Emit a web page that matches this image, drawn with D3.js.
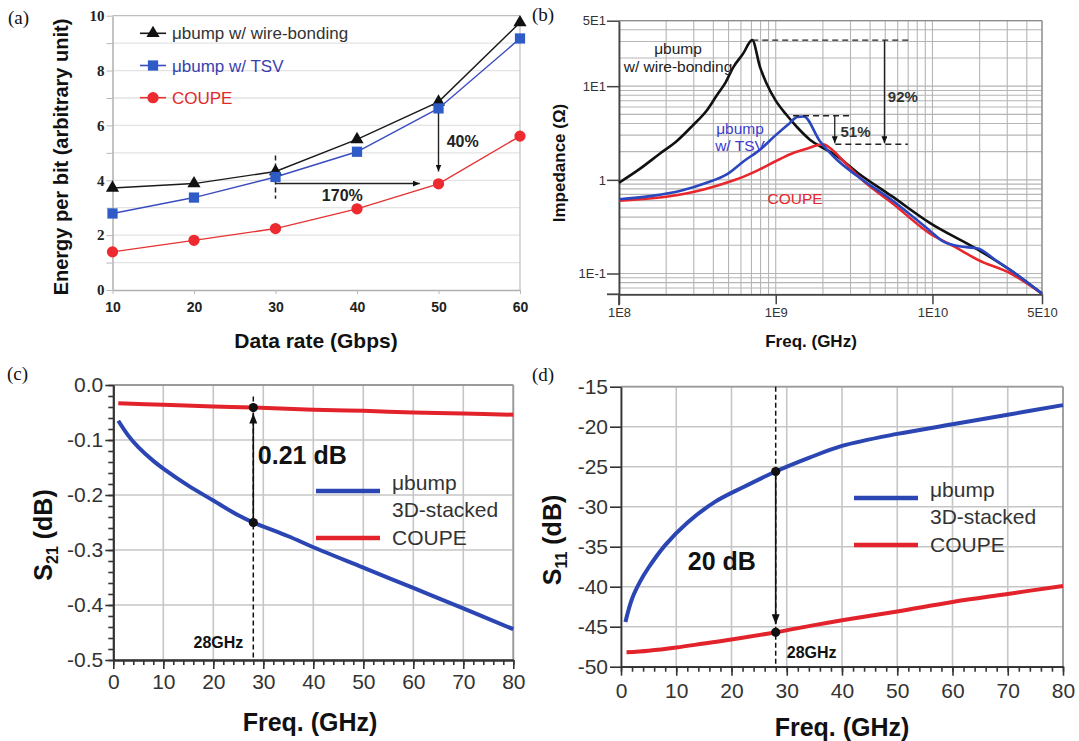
<!DOCTYPE html>
<html>
<head>
<meta charset="UTF-8">
<title>COUPE vs ubump</title>
<script src="https://d3js.org/d3.v7.min.js"></script>
<style>
  body { margin: 0; background: #fff; }
  svg { display: block; font-family: "Liberation Sans", Arial, sans-serif; }
</style>
</head>
<body>
<div id="chart"></div>
<script>
// ---- (a) energy per bit vs data rate ----
const rateA = [10, 20, 30, 40, 50, 60];
const wireA = [3.72, 3.88, 4.32, 5.49, 6.86, 9.75];
const tsvA = [2.79, 3.37, 4.12, 5.04, 6.62, 9.17];
const coupeA = [1.39, 1.81, 2.24, 2.96, 3.87, 5.61];
const yLabelsA = [0, 2, 4, 6, 8, 10];
const legendA = ["\u03bcbump w/ wire-bonding", "\u03bcbump w/ TSV", "COUPE"];

// ---- (b) impedance vs frequency (Hz, ohm) ----
const wireB_f = [1e8, 1.35e8, 1.82e8, 2.34e8, 2.95e8, 3.63e8, 4.17e8, 4.79e8, 5.37e8, 6.17e8, 7.08e8, 7.94e8, 8.71e8, 1e9, 1.17e9, 1.38e9, 1.66e9, 2e9, 2.4e9, 3.31e9, 5.5e9, 9.55e9, 1.95e10, 3.16e10, 5e10];
const wireB_z = [0.93, 1.3, 1.9, 2.6, 3.8, 5.5, 7.8, 11, 16, 22, 31, 16, 10.8, 7, 4.95, 3.6, 2.67, 2.2, 1.85, 1.2, 0.67, 0.35, 0.18, 0.108, 0.061];
const tsvB_f = [1e8, 1.58e8, 2.51e8, 3.55e8, 4.9e8, 6.31e8, 7.94e8, 1e9, 1.2e9, 1.38e9, 1.51e9, 1.91e9, 2.4e9, 3.31e9, 5.5e9, 9.55e9, 1.17e10, 1.48e10, 1.95e10, 2.51e10, 3.16e10, 5e10];
const tsvB_z = [0.62, 0.67, 0.77, 0.92, 1.15, 1.6, 2.1, 3.0, 3.9, 4.7, 4.75, 2.6, 1.7, 1.1, 0.61, 0.29, 0.22, 0.195, 0.185, 0.14, 0.108, 0.061];
const coupeB_f = [1e8, 2e8, 3.47e8, 5.01e8, 6.31e8, 7.94e8, 1.05e9, 1.26e9, 1.58e9, 2e9, 2.29e9, 2.69e9, 3.63e9, 5.5e9, 9.55e9, 1.41e10, 1.95e10, 3.16e10, 5e10];
const coupeB_z = [0.6, 0.66, 0.79, 0.95, 1.09, 1.3, 1.65, 1.9, 2.15, 2.4, 2.1, 1.6, 0.97, 0.57, 0.27, 0.19, 0.14, 0.1, 0.061];
const yTicksB = [50, 10, 1, 0.1];
const yTickLabelsB = ["5E1", "1E1", "1", "1E-1"];
const xTicksB = [1e8, 1e9, 1e10, 5e10];
const xTickLabelsB = ["1E8", "1E9", "1E10", "5E10"];

// ---- (c) S21 vs frequency (GHz, dB) ----
const bumpC_f = [1, 3, 5, 8, 10, 15, 20, 25, 28, 35, 40, 50, 60, 70, 80];
const bumpC_s = [-0.065, -0.092, -0.113, -0.138, -0.152, -0.183, -0.21, -0.237, -0.25, -0.275, -0.295, -0.332, -0.369, -0.406, -0.444];
const coupeC_f = [1, 10, 20, 28, 40, 50, 60, 70, 80];
const coupeC_s = [-0.033, -0.036, -0.039, -0.041, -0.045, -0.047, -0.05, -0.052, -0.054];

// ---- (d) S11 vs frequency (GHz, dB) ----
const bumpD_f = [0.8, 2, 3.5, 5, 8, 12, 17, 22, 28, 34, 40, 50, 60, 70, 80];
const bumpD_s = [-44.4, -41.5, -39.3, -37.6, -34.8, -32.0, -29.4, -27.6, -25.6, -23.9, -22.4, -20.9, -19.7, -18.5, -17.3];
const coupeD_f = [1, 5, 10, 15, 20, 28, 35, 40, 50, 60, 70, 80];
const coupeD_s = [-48.2, -48.0, -47.6, -47.1, -46.6, -45.7, -44.8, -44.2, -43.1, -41.9, -40.9, -39.9];

const legendCD = ["\u03bcbump", "3D-stacked", "COUPE"];
const BLUE = "#2b45b3", RED = "#e3232b";

const svg = d3.select("#chart").append("svg").attr("width", 1079).attr("height", 741);
const defs = svg.append("defs");
function arrowDef(id, len, wid) {
  defs.append("marker").attr("id", id).attr("viewBox", `0 0 ${len} ${wid}`)
    .attr("refX", len).attr("refY", wid / 2)
    .attr("markerWidth", len).attr("markerHeight", wid)
    .attr("markerUnits", "userSpaceOnUse").attr("orient", "auto")
    .append("path").attr("d", `M0,0L${len},${wid / 2}L0,${wid}Z`).attr("fill", "#111");
}
arrowDef("arrS", 7, 6);
arrowDef("arrL", 10, 8);

// panel letters
[["(a)", 8, 24], ["(b)", 532, 21], ["(c)", 7, 380], ["(d)", 532, 381]].forEach(p => {
  svg.append("text").attr("x", p[1]).attr("y", p[2]).text(p[0])
    .attr("font-family", "Liberation Serif, serif").attr("font-size", 19).attr("fill", "#111");
});

// =============== (a) ===============
{
  const xA = d3.scaleLinear().domain([10, 60]).range([112.5, 520]);
  const yA = d3.scaleLinear().domain([0, 10]).range([290, 15.7]);
  const g = svg.append("g");

  g.selectAll("line.grid").data(yA.ticks(10).filter(d => d > 0)).join("line").attr("class", "grid")
    .attr("x1", xA(10)).attr("x2", xA(60)).attr("y1", d => yA(d)).attr("y2", d => yA(d))
    .attr("stroke", d => d === 10 ? "#bdbdbd" : "#e3e3e3").attr("stroke-width", 1.3);
  g.append("line").attr("x1", xA(60)).attr("x2", xA(60)).attr("y1", yA(0)).attr("y2", yA(10))
    .attr("stroke", "#c4c4c4").attr("stroke-width", 1.3);

  const ay = g.append("g").attr("transform", `translate(${xA(10)},0)`)
    .call(d3.axisLeft(yA).ticks(10).tickSize(6).tickPadding(2).tickSizeOuter(0)
      .tickFormat(d => yLabelsA.includes(d) ? d : ""));
  ay.select(".domain").attr("stroke", "#b0b0b0").attr("stroke-width", 1.5);
  ay.selectAll(".tick line").attr("stroke", "#b8b8b8");
  ay.selectAll(".tick text").attr("font-family", "Liberation Serif, serif").attr("font-weight", "bold")
    .attr("font-size", 15).attr("fill", "#222");

  const ax = g.append("g").attr("transform", `translate(0,${yA(0)})`)
    .call(d3.axisBottom(xA).tickValues(rateA).tickSize(4).tickPadding(8).tickSizeOuter(0));
  ax.select(".domain").attr("stroke", "#b0b0b0").attr("stroke-width", 1.5);
  ax.selectAll(".tick line").attr("stroke", "#b8b8b8");
  ax.selectAll(".tick text").attr("font-weight", "bold").attr("font-size", 14).attr("fill", "#222");

  g.append("text").attr("transform", `translate(68,157) rotate(-90)`).attr("text-anchor", "middle")
    .attr("font-weight", "bold").attr("font-size", 20).attr("fill", "#111")
    .text("Energy per bit (arbitrary unit)");
  g.append("text").attr("x", 316).attr("y", 348).attr("text-anchor", "middle")
    .attr("font-weight", "bold").attr("font-size", 21).attr("fill", "#111").text("Data rate (Gbps)");

  // annotations
  g.append("line").attr("x1", xA(30)).attr("x2", xA(30)).attr("y1", yA(4.9)).attr("y2", yA(3.33))
    .attr("stroke", "#222").attr("stroke-width", 1.5).attr("stroke-dasharray", "5,3");
  [[30, 3.88, 47.7, 3.88], [50, 6.6, 50, 4.32]].forEach(a => {
    g.append("line").attr("x1", xA(a[0])).attr("y1", yA(a[1])).attr("x2", xA(a[2])).attr("y2", yA(a[3]))
      .attr("stroke", "#222").attr("stroke-width", 1.4).attr("marker-end", "url(#arrS)");
  });
  [[38.2, 3.25, "170%", "middle"], [51, 5.21, "40%", "start"]].forEach(t => {
    g.append("text").attr("x", xA(t[0])).attr("y", yA(t[1])).attr("text-anchor", t[3])
      .attr("font-weight", "bold").attr("font-size", 16).attr("fill", "#222").text(t[2]);
  });

  const series = [
    { vals: wireA, line: "#1a1a1a", fill: "#111", text: "#333", sym: d3.symbolTriangle, size: 75 },
    { vals: tsvA, line: "#3a4cc0", fill: "#2f5bc7", text: "#3a3fae", sym: d3.symbolSquare, size: 105 },
    { vals: coupeA, line: "#e53333", fill: "#ec2a30", text: "#e02a2a", sym: d3.symbolCircle, size: 100 }
  ];
  const line = d3.line().x((d, i) => xA(rateA[i])).y(d => yA(d));
  series.forEach((s, k) => {
    g.append("path").attr("d", line(s.vals)).attr("fill", "none").attr("stroke", s.line).attr("stroke-width", 1.4);
    g.selectAll(null).data(s.vals).join("path")
      .attr("transform", (d, i) => `translate(${xA(rateA[i])},${yA(d)})`)
      .attr("d", d3.symbol(s.sym, s.size)).attr("fill", s.fill);
    // legend
    const ly = 33.3 + k * 32.2;
    g.append("line").attr("x1", 140).attr("x2", 166).attr("y1", ly).attr("y2", ly)
      .attr("stroke", s.line).attr("stroke-width", 1.6);
    g.append("path").attr("transform", `translate(153,${ly})`).attr("d", d3.symbol(s.sym, s.size)).attr("fill", s.fill);
    g.append("text").attr("x", 172).attr("y", ly + 6).attr("font-size", 17).attr("fill", s.text).text(legendA[k]);
  });
}

// =============== (b) ===============
{
  const xB = d3.scaleLog().domain([1e8, 5e10]).range([619, 1042]);
  const yB = d3.scaleLog().domain([0.06, 50]).range([294.3, 20.7]);
  const g = svg.append("g");
  const [x0, x1] = xB.range(), [y0, y1] = yB.range();

  g.selectAll("line.vg").data(xB.ticks()).join("line").attr("class", "vg")
    .attr("x1", d => xB(d)).attr("x2", d => xB(d)).attr("y1", y0).attr("y2", y1)
    .attr("stroke", "#b5b5b5").attr("stroke-width", 1.1);
  g.selectAll("line.hg").data(yB.ticks()).join("line").attr("class", "hg")
    .attr("x1", x0).attr("x2", x1).attr("y1", d => yB(d)).attr("y2", d => yB(d))
    .attr("stroke", "#b5b5b5").attr("stroke-width", 1.1);
  g.append("line").attr("x1", x0).attr("x2", x1).attr("y1", y1).attr("y2", y1).attr("stroke", "#8a8a8a").attr("stroke-width", 1.2);
  g.append("line").attr("x1", x1).attr("x2", x1).attr("y1", y0).attr("y2", y1).attr("stroke", "#8a8a8a").attr("stroke-width", 1.2);

  const ay = g.append("g").attr("transform", `translate(${x0},0)`)
    .call(d3.axisLeft(yB).tickValues(yTicksB).tickSize(12).tickPadding(1).tickSizeOuter(0)
      .tickFormat((d, i) => yTickLabelsB[i]));
  const ax = g.append("g").attr("transform", `translate(0,${y0})`)
    .call(d3.axisBottom(xB).tickValues(xTicksB).tickSize(10).tickPadding(3).tickSizeOuter(0)
      .tickFormat((d, i) => xTickLabelsB[i]));
  [ay, ax].forEach(a => {
    a.select(".domain").attr("stroke", "#444").attr("stroke-width", 1.8);
    a.selectAll(".tick line").attr("stroke", "#444").attr("stroke-width", 1.5);
    a.selectAll(".tick text").attr("font-size", 13).attr("fill", "#333");
  });
  // axis line overhangs
  g.append("line").attr("x1", x0 - 12).attr("x2", x0).attr("y1", y0).attr("y2", y0).attr("stroke", "#444").attr("stroke-width", 1.8);
  g.append("line").attr("x1", x0).attr("x2", x0).attr("y1", y0).attr("y2", y0 + 11).attr("stroke", "#444").attr("stroke-width", 1.8);

  g.append("text").attr("transform", `translate(565,163) rotate(-90)`).attr("text-anchor", "middle")
    .attr("font-weight", "bold").attr("font-size", 17).attr("fill", "#111").text("Impedance (\u03a9)");
  g.append("text").attr("x", 811).attr("y", 347).attr("text-anchor", "middle")
    .attr("font-weight", "bold").attr("font-size", 17).attr("fill", "#111").text("Freq. (GHz)");

  const line = (f, z) => d3.line().x((d, i) => xB(f[i])).y(d => yB(d)).curve(d3.curveMonotoneX)(z);
  [[wireB_f, wireB_z, "#111"], [coupeB_f, coupeB_z, "#e8262b"], [tsvB_f, tsvB_z, "#2a47c0"]].forEach(s => {
    g.append("path").attr("d", line(s[0], s[1])).attr("fill", "none").attr("stroke", s[2])
      .attr("stroke-width", 2.6).attr("stroke-linejoin", "round");
  });

  // dashed reference lines and arrows
  [[7.08e8, 7.4e9, 31], [2.4e9, 6.97e9, 2.4], [1.29e9, 2.95e9, 4.83]].forEach(d => {
    g.append("line").attr("x1", xB(d[0])).attr("x2", xB(d[1])).attr("y1", yB(d[2])).attr("y2", yB(d[2]))
      .attr("stroke", "#222").attr("stroke-width", 1.4).attr("stroke-dasharray", "6,4");
  });
  [[4.94e9, 31, 2.46], [2.38e9, 4.83, 2.46]].forEach(a => {
    g.append("line").attr("x1", xB(a[0])).attr("x2", xB(a[0])).attr("y1", yB(a[1])).attr("y2", yB(a[2]))
      .attr("stroke", "#222").attr("stroke-width", 1.3).attr("marker-end", "url(#arrS)");
  });
  [[5.19e9, 6.83, "92%"], [2.59e9, 2.88, "51%"]].forEach(t => {
    g.append("text").attr("x", xB(t[0])).attr("y", yB(t[1])).attr("font-size", 15)
      .attr("font-weight", "bold").attr("fill", "#333").text(t[2]);
  });
  const lbl = [
    [678, [53.5, 72], ["\u03bcbump", "w/ wire-bonding"], "#222"],
    [740, [133.5, 151], ["\u03bcbump", "w/ TSV"], "#3b3bd0"],
    [795, [203.5], ["COUPE"], "#e8262b"]
  ];
  lbl.forEach(l => l[2].forEach((t, i) => {
    g.append("text").attr("x", l[0]).attr("y", l[1][i]).attr("text-anchor", "middle")
      .attr("font-size", 15.5).attr("fill", l[3]).text(t);
  }));
}

// =============== (c) and (d) ===============
function sPanel(o) {
  const x = d3.scaleLinear().domain([0, 80]).range(o.xRange);
  const y = d3.scaleLinear().domain(o.yDomain).range(o.yRange);
  const g = svg.append("g");
  const [x0, x1] = o.xRange, [y0, y1] = o.yRange;
  const xt = x.ticks(8), yt = y.ticks(o.nY);

  g.selectAll("line.vg").data(xt).join("line").attr("class", "vg")
    .attr("x1", d => x(d)).attr("x2", d => x(d)).attr("y1", y0).attr("y2", y1)
    .attr("stroke", "#c6c6c6").attr("stroke-width", 1.6);
  g.selectAll("line.hg").data(yt).join("line").attr("class", "hg")
    .attr("x1", x0).attr("x2", x1).attr("y1", d => y(d)).attr("y2", d => y(d))
    .attr("stroke", "#c6c6c6").attr("stroke-width", 1.6);
  g.append("line").attr("x1", x0).attr("x2", x1).attr("y1", y1).attr("y2", y1).attr("stroke", "#9a9a9a").attr("stroke-width", 1.8);
  g.append("line").attr("x1", x1).attr("x2", x1).attr("y1", y0).attr("y2", y1).attr("stroke", "#9a9a9a").attr("stroke-width", 1.8);

  const minorX = g.append("g").attr("transform", `translate(0,${y0})`)
    .call(d3.axisBottom(x).ticks(40).tickSize(5).tickFormat("").tickSizeOuter(0));
  const ax = g.append("g").attr("transform", `translate(0,${y0})`)
    .call(d3.axisBottom(x).tickValues(xt).tickSize(9).tickPadding(o.xPad).tickSizeOuter(0));
  const parts = [minorX, ax];
  if (o.minorY) {
    parts.push(g.append("g").attr("transform", `translate(${x0},0)`)
      .call(d3.axisLeft(y).ticks(o.minorY).tickSize(5).tickFormat("").tickSizeOuter(0)));
  }
  const ay = g.append("g").attr("transform", `translate(${x0},0)`)
    .call(d3.axisLeft(y).tickValues(yt).tickSize(o.yTick).tickPadding(2).tickSizeOuter(0).tickFormat(o.fmt));
  parts.push(ay);
  parts.forEach(a => {
    a.select(".domain").attr("stroke", "#333").attr("stroke-width", 1.8);
    a.selectAll(".tick line").attr("stroke", "#333").attr("stroke-width", 1.6);
    a.selectAll(".tick text").attr("font-size", 21).attr("fill", "#333");
  });

  // axis titles
  const yt1 = g.append("text").attr("transform", `translate(${o.yTitle[0]},${o.yTitle[1]}) rotate(-90)`)
    .attr("text-anchor", "middle").attr("font-weight", "bold").attr("font-size", 25).attr("fill", "#111");
  yt1.append("tspan").text("S");
  yt1.append("tspan").attr("font-size", 16).attr("dy", 6).text(o.sub);
  yt1.append("tspan").attr("dy", -6).text(" (dB)");
  g.append("text").attr("x", o.xTitle[0]).attr("y", o.xTitle[1]).attr("text-anchor", "middle")
    .attr("font-weight", "bold").attr("font-size", 25).attr("fill", "#111").text("Freq. (GHz)");

  // dashed marker at 28 GHz
  g.append("line").attr("x1", x(28)).attr("x2", x(28)).attr("y1", y(o.dashTop)).attr("y2", y0)
    .attr("stroke", "#111").attr("stroke-width", 1.5).attr("stroke-dasharray", "5,3");

  const line = (f, s) => d3.line().x((d, i) => x(f[i])).y(d => y(d)).curve(d3.curveCatmullRom.alpha(0.5))(s);
  g.append("path").attr("d", line(o.coupeF, o.coupeS)).attr("fill", "none").attr("stroke", RED).attr("stroke-width", 4);
  g.append("path").attr("d", line(o.bumpF, o.bumpS)).attr("fill", "none").attr("stroke", BLUE).attr("stroke-width", 4);

  // arrow between curves at 28 GHz
  g.append("line").attr("x1", x(28)).attr("x2", x(28)).attr("y1", y(o.arrow[0])).attr("y2", y(o.arrow[1]))
    .attr("stroke", "#111").attr("stroke-width", 1.6).attr("marker-end", "url(#arrL)");
  g.selectAll("circle.dot").data(o.dots).join("circle").attr("class", "dot")
    .attr("cx", x(28)).attr("cy", d => y(d)).attr("r", 4.6).attr("fill", "#111");

  g.append("text").attr("x", x(o.dbLabel[0])).attr("y", y(o.dbLabel[1])).attr("font-weight", "bold")
    .attr("font-size", 25).attr("fill", "#111").text(o.dbLabel[2]);
  g.append("text").attr("x", x(o.ghzLabel[0])).attr("y", y(o.ghzLabel[1])).attr("text-anchor", o.ghzLabel[2])
    .attr("font-weight", "bold").attr("font-size", 16).attr("fill", "#111").text("28GHz");

  // legend
  const L = o.legend;
  g.append("line").attr("x1", L.x).attr("x2", L.x + 64).attr("y1", L.y).attr("y2", L.y).attr("stroke", BLUE).attr("stroke-width", 4.5);
  g.append("line").attr("x1", L.x).attr("x2", L.x + 64).attr("y1", L.y + 47).attr("y2", L.y + 47).attr("stroke", RED).attr("stroke-width", 4.5);
  [[-1, 0], [26, 1], [54, 2]].forEach(r => {
    g.append("text").attr("x", L.x + 76).attr("y", L.y + r[0]).attr("font-size", 21).attr("fill", "#333").text(legendCD[r[1]]);
  });
}

sPanel({
  xRange: [113.3, 513.3], yDomain: [-0.5, 0], yRange: [660, 385], nY: 5, minorY: 25, yTick: 8, xPad: 5,
  fmt: d => d.toFixed(1), sub: "21", yTitle: [52, 535], xTitle: [310, 731],
  bumpF: bumpC_f, bumpS: bumpC_s, coupeF: coupeC_f, coupeS: coupeC_s,
  dashTop: -0.021, arrow: [-0.25, -0.052], dots: [-0.041, -0.25],
  dbLabel: [28.9, -0.1436, "0.21 dB"], ghzLabel: [26.0, -0.478, "end"],
  legend: { x: 316, y: 491 }
});
sPanel({
  xRange: [621, 1063], yDomain: [-50, -15], yRange: [666.7, 386.7], nY: 7, minorY: 0, yTick: 11, xPad: 7,
  fmt: d => String(d), sub: "11", yTitle: [561, 540], xTitle: [842, 736],
  bumpF: bumpD_f, bumpS: bumpD_s, coupeF: coupeD_f, coupeS: coupeD_s,
  dashTop: -15, arrow: [-25.6, -44.7], dots: [-25.6, -45.7],
  dbLabel: [12.1, -37.9, "20 dB"], ghzLabel: [30.0, -48.9, "start"],
  legend: { x: 854, y: 498 }
});
</script>
</body>
</html>
